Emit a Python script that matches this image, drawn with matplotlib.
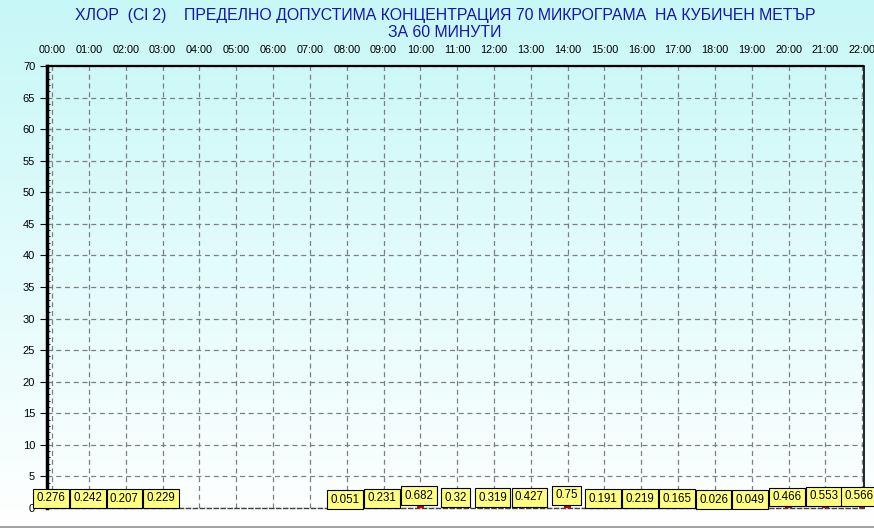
import matplotlib.pyplot as plt
import numpy as np
from matplotlib.ticker import MultipleLocator

plt.rcParams['font.family'] = ['Liberation Sans', 'DejaVu Sans']

# hourly values, None where no measurement
hours = ['00:00', '01:00', '02:00', '03:00', '04:00', '05:00', '06:00', '07:00',
         '08:00', '09:00', '10:00', '11:00', '12:00', '13:00', '14:00', '15:00',
         '16:00', '17:00', '18:00', '19:00', '20:00', '21:00', '22:00']
values = [0.276, 0.242, 0.207, 0.229, None, None, None, None,
          0.051, 0.231, 0.682, 0.32, 0.319, 0.427, 0.75, 0.191,
          0.219, 0.165, 0.026, 0.049, 0.466, 0.553, 0.566]
y_ticks = list(range(0, 75, 5))

title = ('ХЛОР  (Cl 2)    ПРЕДЕЛНО ДОПУСТИМА КОНЦЕНТРАЦИЯ 70 МИКРОГРАМА  НА КУБИЧЕН МЕТЪР\n'
         'ЗА 60 МИНУТИ')

fig = plt.figure(figsize=(8.74, 5.29), dpi=100)

# background gradient over whole figure
bg = fig.add_axes([0, 0, 1, 1], zorder=-10)
grad = np.linspace(0, 1, 256).reshape(-1, 1)
top = np.array([0.78, 0.97, 0.97])
bot = np.array([1.0, 1.0, 1.0])
img = top + (bot - top) * grad[..., None]
bg.imshow(img, aspect='auto', extent=[0, 1, 0, 1])
bg.plot([0, 1], [0.004, 0.004], color='#909090', lw=1.2)
bg.set_xlim(0, 1)
bg.set_ylim(0, 1)
bg.axis('off')

ax = fig.add_axes([0.0538, 0.0397, 0.9348, 0.8355])
ax.patch.set_alpha(0)

x = np.arange(len(hours))
last = len(values) - 1
for i, v in enumerate(values):
    if v is None:
        continue
    ax.bar(i, v, width=0.2, color='#cc0000', zorder=3)
    dx = -2.5 if i == last else -1
    ax.annotate(f'{v:g}', (i, v), xytext=(dx, 1.5), textcoords='offset points',
                ha='center', va='bottom', fontsize=8.3, zorder=5 + i, annotation_clip=False,
                bbox=dict(boxstyle='square,pad=0.3', fc='#ffff80', ec='black', lw=0.8))

ax.set_xlim(-0.14, 22.05)
ax.set_ylim(0, 70)
ax.set_xticks(x)
ax.set_xticklabels(hours, fontsize=7.8)
ax.xaxis.tick_top()
ax.tick_params(axis='x', length=0, pad=8)
ax.set_yticks(y_ticks)
ax.tick_params(axis='y', labelsize=8, length=5, direction='out', width=0.8)
ax.yaxis.set_minor_locator(MultipleLocator(1))
ax.tick_params(axis='y', which='minor', length=2, direction='in')

ax.grid(True, color='#7a8080', linestyle=(0, (4, 3)), lw=0.9)
ax.set_axisbelow(True)

ax.spines['left'].set_linewidth(2.5)
ax.spines['top'].set_linewidth(1.6)
ax.spines['top'].set_linestyle((0, (3, 1)))
ax.spines['right'].set_linewidth(1.2)
ax.spines['bottom'].set_linewidth(1.0)
ax.spines['bottom'].set_linestyle((0, (3, 2)))
ax.spines['bottom'].set_color('#404040')

fig.text(0.509, 0.985, title, ha='center', va='top', fontsize=11.4,
         color='#1515b0', linespacing=1.15)

fig.savefig('out.png', dpi=100)
